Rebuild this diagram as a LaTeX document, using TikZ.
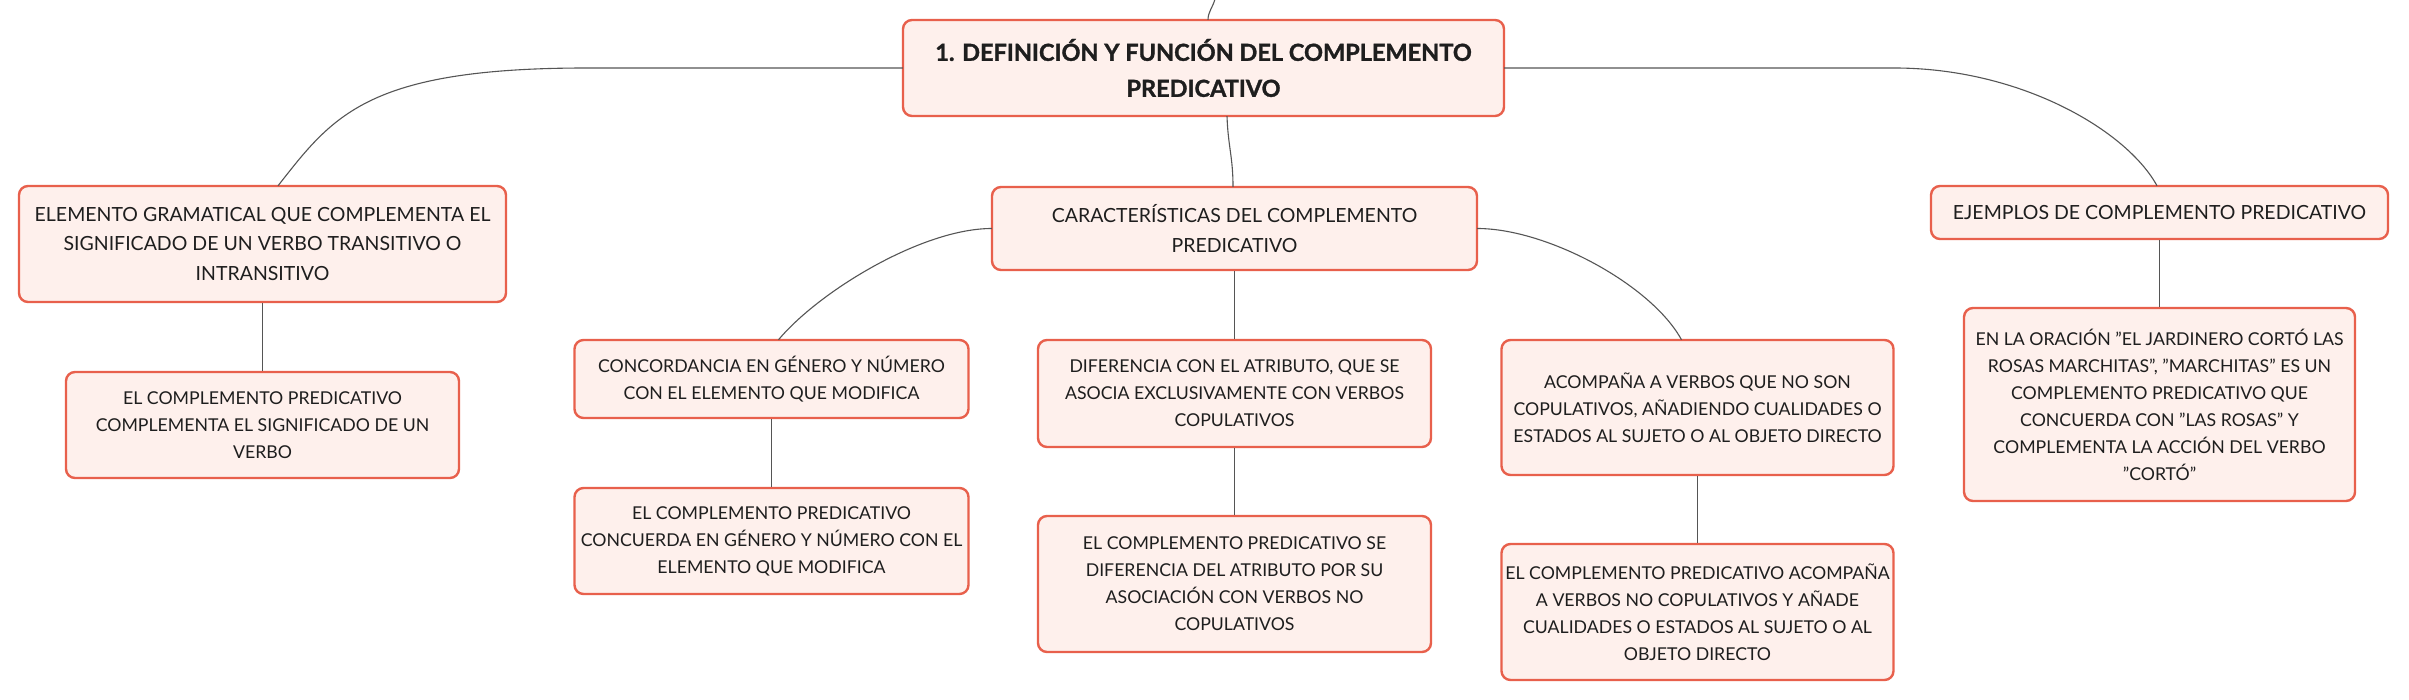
\documentclass[tikz,border=0pt]{standalone}
\usepackage{fontspec}
\setmainfont{Lato}
\newfontfamily\titlefont[BoldFeatures={FakeBold=1.3}]{Lato}
\usetikzlibrary{calc}
\definecolor{boxline}{HTML}{E8604C}
\definecolor{boxfill}{HTML}{FEF0EC}
\definecolor{linkc}{HTML}{555555}
\definecolor{txt}{HTML}{1E1E1E}
\tikzset{
  nbox/.style={draw=boxline, fill=boxfill, line width=2.4pt, rounded corners=9pt,
    align=center, inner sep=0pt, text=txt, anchor=center},
  lvlzero/.style={nbox, font=\titlefont\fontsize{23.5}{36}\selectfont\bfseries},
  lvlone/.style={nbox, font=\fontsize{19.5}{29.5}\selectfont},
  lvltwo/.style={nbox, font=\fontsize{17.7}{27}\selectfont},
  link/.style={draw=linkc, line width=1.1pt},
}
\begin{document}
\begin{tikzpicture}[x=1pt,y=-1pt]
\useasboundingbox (0,0) rectangle (2409,700);
\fill[white] (0,0) rectangle (2409,700);

\node[lvlzero, minimum width=601pt, minimum height=96pt] (main) at (1203.5,68)
  {1. DEFINICIÓN Y FUNCIÓN DEL COMPLEMENTO\\PREDICATIVO};

\node[lvlone, minimum width=487pt, minimum height=116pt] (L1) at (262.5,244)
  {ELEMENTO GRAMATICAL QUE COMPLEMENTA EL\\SIGNIFICADO DE UN VERBO TRANSITIVO O\\INTRANSITIVO};
\node[lvltwo, minimum width=393pt, minimum height=106pt] (L2) at (262.5,425)
  {EL COMPLEMENTO PREDICATIVO\\COMPLEMENTA EL SIGNIFICADO DE UN\\VERBO};

\node[lvlone, minimum width=485pt, minimum height=83pt] (C) at (1234.5,228.5)
  {CARACTERÍSTICAS DEL COMPLEMENTO\\PREDICATIVO};

\node[lvltwo, minimum width=394pt, minimum height=78pt] (C1) at (771.5,379)
  {CONCORDANCIA EN GÉNERO Y NÚMERO\\CON EL ELEMENTO QUE MODIFICA};
\node[lvltwo, minimum width=394pt, minimum height=106pt] (C1b) at (771.5,541)
  {EL COMPLEMENTO PREDICATIVO\\CONCUERDA EN GÉNERO Y NÚMERO CON EL\\ELEMENTO QUE MODIFICA};

\node[lvltwo, minimum width=393pt, minimum height=107pt] (C2) at (1234.5,393.5)
  {DIFERENCIA CON EL ATRIBUTO, QUE SE\\ASOCIA EXCLUSIVAMENTE CON VERBOS\\COPULATIVOS};
\node[lvltwo, minimum width=393pt, minimum height=136pt] (C2b) at (1234.5,584)
  {EL COMPLEMENTO PREDICATIVO SE\\DIFERENCIA DEL ATRIBUTO POR SU\\ASOCIACIÓN CON VERBOS NO\\COPULATIVOS};

\node[lvltwo, minimum width=392pt, minimum height=135pt] (C3) at (1697.5,407.5)
  {ACOMPAÑA A VERBOS QUE NO SON\\COPULATIVOS, AÑADIENDO CUALIDADES O\\ESTADOS AL SUJETO O AL OBJETO DIRECTO};
\node[lvltwo, minimum width=392pt, minimum height=136pt] (C3b) at (1697.5,612)
  {EL COMPLEMENTO PREDICATIVO ACOMPAÑA\\A VERBOS NO COPULATIVOS Y AÑADE\\CUALIDADES O ESTADOS AL SUJETO O AL\\OBJETO DIRECTO};

\node[lvlone, minimum width=457pt, minimum height=53pt] (E) at (2159.5,212.5)
  {EJEMPLOS DE COMPLEMENTO PREDICATIVO};
\node[lvltwo, minimum width=391pt, minimum height=193pt] (Eb) at (2159.5,404.5)
  {EN LA ORACIÓN "EL JARDINERO CORTÓ LAS\\ROSAS MARCHITAS", "MARCHITAS" ES UN\\COMPLEMENTO PREDICATIVO QUE\\CONCUERDA CON "LAS ROSAS" Y\\COMPLEMENTA LA ACCIÓN DEL VERBO\\"CORTÓ"};

% connectors
\coordinate (topin) at (1215,-1);
\draw[link] (topin) .. controls +(-2,8) and +(0,-8) .. ($(main.north)+(4.5,1)$);
\draw[link] ($(main.south)+(23.5,-1)$) .. controls +(1,30) and +(0,-30) .. ($(C.north)+(-1.5,1)$);
\draw[link] ($(main.west)+(1,0)$) -- ++(-316,0) .. controls +(-220,0) and +(55,-70) .. ($(L1.north)+(15.5,1)$);
\draw[link] ($(main.east)+(-1,0)$) -- ++(390,0) .. controls +(127,0) and +(-30,-55) .. ($(E.north)+(-2.5,1)$);
\draw[link] (L1.south) -- (L2.north);
\draw[link] ($(C.west)+(1,0)$) .. controls +(-70,0) and +(40,-48) .. ($(C1.north)+(7,1)$);
\draw[link] (C.south) -- (C2.north);
\draw[link] ($(C.east)+(-1,0)$) .. controls +(70,0) and +(-30,-55) .. ($(C3.north)+(-16,1)$);
\draw[link] (C1.south) -- (C1b.north);
\draw[link] (C2.south) -- (C2b.north);
\draw[link] (C3.south) -- (C3b.north);
\draw[link] (E.south) -- (Eb.north);
\end{tikzpicture}
\end{document}
